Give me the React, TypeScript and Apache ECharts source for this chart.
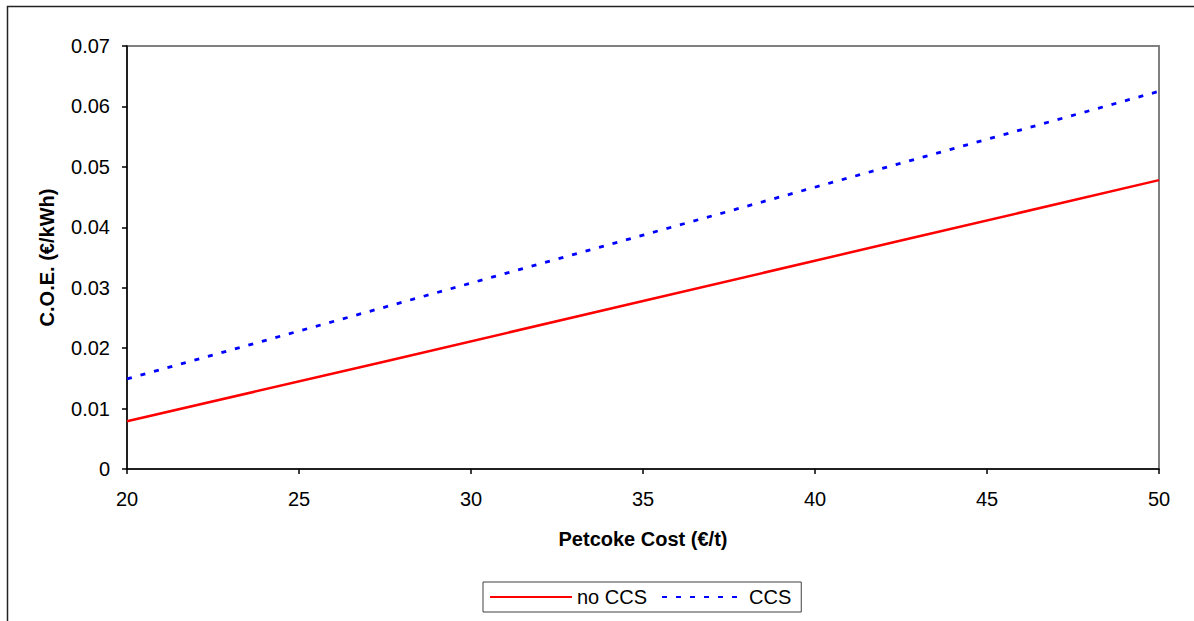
import React, { useEffect, useRef } from "react";
import * as echarts from "echarts";

// Petcoke cost (€/t) at which the cost of electricity was evaluated
const petcokeCost = [20, 27.5, 35, 42.5, 50];
// Cost of electricity (€/kWh) without carbon capture
const coeNoCCS = [0.0079, 0.0178, 0.0278, 0.0378, 0.0478];
// Cost of electricity (€/kWh) with carbon capture and storage
const coeCCS = [0.0149, 0.0268, 0.0387, 0.0506, 0.0625];

const seriesNames = ["no CCS", "CCS"];

const FONT = "'Liberation Sans', Arial, sans-serif";

export default function App() {
  const ref = useRef<HTMLDivElement>(null);

  useEffect(() => {
    document.body.style.margin = "0";
    const chart = echarts.init(ref.current!, undefined, { renderer: "svg" });

    const pairs = (ys: number[]) => petcokeCost.map((x, i) => [x, ys[i]]);

    chart.setOption({
      animation: false,
      backgroundColor: "#ffffff",
      textStyle: { fontFamily: FONT, color: "#000" },
      graphic: [
        {
          type: "rect",
          shape: { x: 7.5, y: 6.5, width: 1300, height: 700 },
          style: { fill: "none", stroke: "#222", lineWidth: 1.5 },
          z: 100,
        },
      ],
      grid: {
        left: 127,
        right: 35,
        top: 46,
        bottom: 152,
        show: true,
        borderColor: "#808080",
        borderWidth: 2,
        backgroundColor: "transparent",
      },
      legend: {
        data: seriesNames,
        left: 483,
        top: 582,
        orient: "horizontal",
        padding: [5, 10, 5, 6],
        itemWidth: 82,
        itemHeight: 20,
        itemGap: 14,
        borderColor: "#404040",
        borderWidth: 1,
        borderRadius: 0,
        itemStyle: { opacity: 0 },
        textStyle: { fontFamily: FONT, fontSize: 20, color: "#000", padding: [0, 0, 0, 0] },
      },
      xAxis: {
        type: "value",
        min: 20,
        max: 50,
        interval: 5,
        name: "Petcoke Cost (€/t)",
        nameLocation: "middle",
        nameGap: 60,
        nameTextStyle: { fontFamily: FONT, fontSize: 20, fontWeight: "bold", color: "#000" },
        axisLine: { show: true, lineStyle: { color: "#000", width: 1.5 } },
        axisTick: { show: true, length: 5, inside: false, lineStyle: { color: "#000", width: 1.5 } },
        axisLabel: { fontFamily: FONT, fontSize: 20, color: "#000", margin: 20 },
        splitLine: { show: false },
      },
      yAxis: {
        type: "value",
        min: 0,
        max: 0.07,
        interval: 0.01,
        name: "C.O.E. (€/kWh)",
        nameLocation: "middle",
        nameGap: 70,
        nameRotate: 90,
        nameTextStyle: { fontFamily: FONT, fontSize: 20, fontWeight: "bold", color: "#000" },
        axisLine: { show: true, lineStyle: { color: "#000", width: 1.5 } },
        axisTick: { show: true, length: 5, inside: false, lineStyle: { color: "#000", width: 1.5 } },
        axisLabel: {
          fontFamily: FONT,
          fontSize: 20,
          color: "#000",
          margin: 17,
          formatter: (v: number) => (v === 0 ? "0" : v.toFixed(2)),
        },
        splitLine: { show: false },
      },
      series: [
        {
          name: seriesNames[0],
          type: "line",
          data: pairs(coeNoCCS),
          symbol: "none",
          color: "#ff0000",
          lineStyle: { color: "#ff0000", width: 2.5, type: "solid" },
          z: 3,
        },
        {
          name: seriesNames[1],
          type: "line",
          data: pairs(coeCCS),
          symbol: "none",
          color: "#0000ff",
          lineStyle: { color: "#0000ff", width: 2.8, type: [5, 9] },
          z: 3,
        },
      ],
    });

    return () => chart.dispose();
  }, []);

  return <div ref={ref} style={{ width: 1194, height: 621 }} />;
}
